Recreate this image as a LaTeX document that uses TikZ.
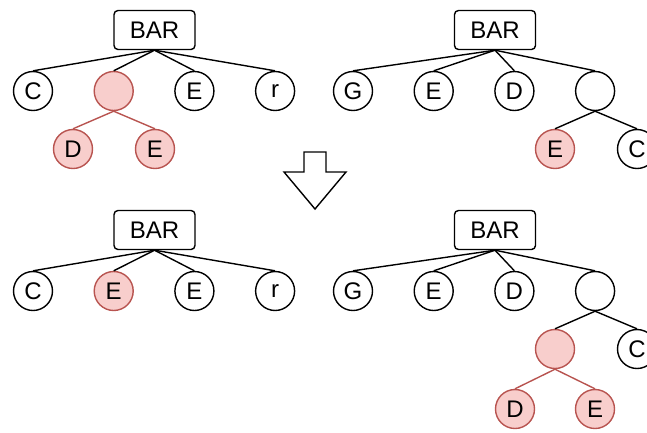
\documentclass[tikz,border=0pt]{standalone}
\usepackage{fontspec}
\setmainfont{Liberation Sans}
\usepackage{xcolor}
\usepackage{tikz}
\usetikzlibrary{positioning}
\definecolor{markfill}{HTML}{F8CECC}
\definecolor{markdraw}{HTML}{B85450}
\tikzset{link/.style = {draw=black,line width=1.4pt}}
\tikzset{marklink/.style = {draw=markdraw,line width=1.4pt}}

\begin{document}
\begin{tikzpicture}[x=1pt,y=-1pt,node distance=80.7pt,
        main node/.style={circle,draw,line width=1.4pt,minimum size=39pt,inner sep=0pt,font=\fontsize{24}{26}\selectfont},
        bar node/.style={rectangle,rounded corners=4pt,draw,line width=1.4pt,minimum width=81pt,minimum height=39pt,inner sep=0pt,font=\fontsize{24}{26}\selectfont},
        marked/.style={fill=markfill,draw=markdraw}]
            \useasboundingbox (0,0) rectangle (647,432);

            \node[bar node] (1) at (154.5,30) {BAR};
            \node[main node] (11) at (33,91) {C};
            \node[main node,marked] (12) [right of=11] {};
            \node[main node] (13) [right of=12] {E};
            \node[main node] (14) [right of=13] {r};
            \node[main node,marked] (121) at (73,149) {D};
            \node[main node,marked] (122) at (155,149) {E};
            \path[link]
                (1.south) edge (11.north)
                (1.south) edge (12.north)
                (1.south) edge (13.north)
                (1.south) edge (14.north);
            \path[marklink]
                (12.south) edge (121.north)
                (12.south) edge (122.north);

            \node[bar node] (2) at (495,30) {BAR};
            \node[main node] (21) at (353,91) {G};
            \node[main node] (22) [right of=21] {E};
            \node[main node] (23) [right of=22] {D};
            \node[main node] (24) [right of=23] {};
            \node[main node,marked] (241) at (555,149) {E};
            \node[main node] (242) at (637,149) {C};
            \path[link]
                (2.south) edge (21.north)
                (2.south) edge (22.north)
                (2.south) edge (23.north)
                (2.south) edge (24.north)
                (24.south) edge (241.north)
                (24.south) edge (242.north);

            \draw[line width=1.4pt,line join=miter]
                (304,152) -- (326,152) -- (326,172) -- (346,172) -- (315,209)
                -- (284,172) -- (304,172) -- cycle;

            \node[bar node] (3) at (154.5,230) {BAR};
            \node[main node] (31) at (33,291) {C};
            \node[main node,marked] (32) [right of=31] {E};
            \node[main node] (33) [right of=32] {E};
            \node[main node] (34) [right of=33] {r};
            \path[link]
                (3.south) edge (31.north)
                (3.south) edge (32.north)
                (3.south) edge (33.north)
                (3.south) edge (34.north);

            \node[bar node] (4) at (495,230) {BAR};
            \node[main node] (41) at (353,291) {G};
            \node[main node] (42) [right of=41] {E};
            \node[main node] (43) [right of=42] {D};
            \node[main node] (44) [right of=43] {};
            \node[main node,marked] (441) at (555,349) {};
            \node[main node] (442) at (637,349) {C};
            \node[main node,marked] (4411) at (515,409) {D};
            \node[main node,marked] (4412) at (595,409) {E};
            \path[link]
                (4.south) edge (41.north)
                (4.south) edge (42.north)
                (4.south) edge (43.north)
                (4.south) edge (44.north)
                (44.south) edge (441.north)
                (44.south) edge (442.north);
            \path[marklink]
                (441.south) edge (4411.north)
                (441.south) edge (4412.north);
        \end{tikzpicture}
\end{document}
